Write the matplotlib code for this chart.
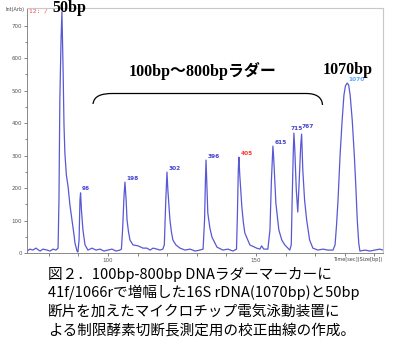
import matplotlib.pyplot as plt
from matplotlib.path import Path
from matplotlib.patches import PathPatch

# electropherogram trace (time, intensity)
trace_time = [72.6, 73.6, 74.6, 75.6, 77.0, 78.0, 79.4, 80.4, 81.4, 82.4,
              83.1, 83.4, 83.7, 84.1, 84.4, 84.8, 85.1, 85.4, 85.9, 86.5,
              87.1, 87.8, 88.5, 88.8, 89.5, 89.8, 90.2, 90.5, 90.7, 91.0,
              91.5, 92.2, 93.2, 94.6, 95.9, 97.3, 98.6, 100.0, 101.3, 102.7,
              104.0, 104.5, 104.9, 105.4, 105.7, 106.1, 106.4, 106.9, 107.4, 108.4,
              110.1, 111.8, 113.1, 114.2, 115.2, 116.5, 117.5, 118.5, 119.0, 119.5,
              119.9, 120.2, 120.9, 121.4, 121.9, 122.9, 124.3, 126.0, 127.7, 129.4,
              131.0, 132.1, 132.6, 132.9, 133.1, 133.4, 133.7, 134.4, 135.1, 136.8,
              138.8, 140.5, 142.2, 143.4, 143.7, 144.0, 144.2, 144.5, 145.2, 145.7,
              146.2, 147.9, 150.2, 151.3, 151.9, 152.6, 154.0, 154.7, 155.2, 155.7,
              156.0, 156.4, 156.7, 157.7, 158.7, 159.7, 161.4, 161.9, 162.2, 162.6,
              162.8, 163.1, 163.6, 164.1, 164.6, 165.1, 165.4, 165.8, 166.4, 167.1,
              168.1, 169.2, 170.9, 172.6, 174.3, 176.0, 176.7, 177.2, 177.7, 178.4,
              179.1, 179.7, 180.2, 180.8, 181.3, 181.8, 182.5, 183.2, 183.7, 184.2,
              184.7, 185.1, 186.8, 188.5, 190.2, 191.8, 192.9]
trace_int = [6, 12, 9, 15, 6, 12, 9, 6, 12, 9,
             15, 163, 471, 655, 742, 563, 394, 308, 240, 203,
             148, 102, 55, 31, 6, 3, 40, 163, 185, 132,
             71, 25, 9, 15, 9, 12, 6, 9, 12, 6,
             9, 12, 71, 178, 218, 163, 102, 65, 40, 25,
             22, 15, 15, 9, 15, 12, 9, 12, 25, 163,
             249, 194, 102, 65, 40, 25, 15, 9, 12, 6,
             9, 12, 102, 225, 286, 209, 123, 77, 49, 18,
             9, 12, 6, 12, 117, 255, 295, 240, 142, 95,
             62, 25, 15, 12, 22, 12, 12, 71, 225, 329,
             286, 209, 154, 71, 40, 25, 9, 25, 163, 317,
             369, 317, 194, 126, 225, 332, 366, 255, 163, 102,
             40, 15, 9, 12, 9, 9, 25, 86, 163, 302,
             409, 486, 514, 523, 517, 486, 409, 302, 209, 102,
             31, 6, 9, 6, 9, 12, 9]

# sized peaks
peak_labels = ["96", "198", "302", "396", "405", "615", "715", "767", "1070"]
peak_time = [90.7, 105.7, 119.9, 133.1, 144.2, 155.7, 162.8, 165.4, 180.8]
peak_int = [185, 218, 249, 286, 295, 329, 369, 366, 523]
peak_colors = ["#4444cc"] * 4 + ["#ff3333"] + ["#4444cc"] * 3 + ["#55aaff"]
peak_offsets = [(1, 1), (1, 1), (1, 1), (1, 1), (1, 1), (1, 1), (-2.5, 1.5), (0, 3.5), (1, 1)]

y_ticks = [0, 100, 200, 300, 400, 500, 600, 700]
x_ticks = [100, 150]

caption = ["図２．100bp-800bp DNAラダーマーカーに",
           "41f/1066rで増幅した16S rDNA(1070bp)と50bp",
           "断片を加えたマイクロチップ電気泳動装置に",
           "よる制限酵素切断長測定用の校正曲線の作成。"]

W, H = 393, 354
fig = plt.figure(figsize=(W / 100, H / 100), dpi=100)
ax = fig.add_axes([27 / W, 1 - 253 / H, (383 - 27) / W, (253 - 8) / H])

ax.plot(trace_time, trace_int, color="#5858d4", lw=0.9)
ax.set_xlim(72.6, 192.9)
ax.set_ylim(0, 754)

for lab, x, y, c, off in zip(peak_labels, peak_time, peak_int, peak_colors, peak_offsets):
    ax.annotate(lab, (x, y), xytext=off, textcoords="offset points",
                fontsize=4.2, color=c, ha="left", va="bottom", fontweight="bold")

ax.set_yticks(y_ticks)
ax.set_yticks(range(50, 750, 100), minor=True)
ax.set_xticks(x_ticks)
ax.set_xticks([80, 90, 110, 120, 130, 140, 160, 170, 180, 190], minor=True)
ax.tick_params(labelsize=4, colors="#555555", length=2.2, width=0.5, pad=1.5)
ax.tick_params(which="minor", length=1.8, width=0.5, colors="#555555")
for side in ["left", "bottom"]:
    ax.spines[side].set_color("#777777")
    ax.spines[side].set_linewidth(0.6)
for side in ["top", "right"]:
    ax.spines[side].set_color("#c8c8c8")
    ax.spines[side].set_linewidth(0.8)

# overlay in pixel units for annotations and caption
ov = fig.add_axes([0, 0, 1, 1], facecolor="none")
ov.set_xlim(0, W)
ov.set_ylim(H, 0)
ov.axis("off")

ov.text(15, 10, "Int(Arb)", fontsize=3.5, color="#444444", ha="center", va="center")
ov.text(29, 11, "12: /", fontsize=4.5, color="#ff4444", ha="left", va="center",
        family="DejaVu Sans Mono")
ov.text(382, 260, "Time[sec](Size[bp])", fontsize=3.6, color="#444444", ha="right", va="center")

big = dict(family=["Liberation Serif", "Noto Sans CJK JP"], fontweight="bold",
           fontsize=11.5, color="black", ha="center", va="center")
ov.text(69, 8, "50bp", **big)
ov.text(203, 71, "100bp～800bpラダー", **big)
ov.text(348, 70, "1070bp", **big)

verts = [(93, 104), (94, 96), (101, 93.5), (113, 93.5),
         (306, 93.5), (316, 93.5), (322, 97), (322.5, 105)]
codes = [Path.MOVETO, Path.CURVE4, Path.CURVE4, Path.CURVE4,
         Path.LINETO, Path.CURVE4, Path.CURVE4, Path.CURVE4]
ov.add_patch(PathPatch(Path(verts, codes), fill=False, lw=0.9, color="black"))

for i, line in enumerate(caption):
    ov.text(48, 274 + i * 18.7, line, family=["Noto Sans CJK JP", "DejaVu Sans"],
            fontsize=10.5, ha="left", va="center", color="black")

fig.savefig("out.png", dpi=100)
